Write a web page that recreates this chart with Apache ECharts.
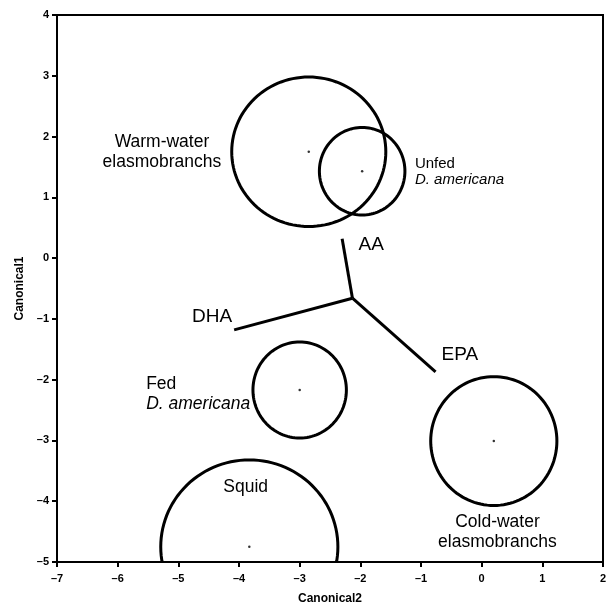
<!DOCTYPE html>
<html style="height: 100%">
<head>
    <meta charset="utf-8">
    <script src="https://cdn.jsdelivr.net/npm/echarts@6/dist/echarts.min.js"></script>
    <title>Canonical plot</title>
</head>
<body style="height: 100%; margin: 0; background: #fff">
<div id="container" style="width: 609px; height: 607px"></div>
<script type="text/javascript">
// group means (Canonical2, Canonical1) and confidence radii
let groups   = ['Warm-water', 'Unfed', 'Fed', 'Cold-water', 'Squid']
let centerX  = [-2.85, -1.97, -3.00, 0.20, -3.83]
let centerY  = [1.75, 1.43, -2.17, -3.01, -4.75]
let radiusX  = [1.27, 0.705, 0.77, 1.04, 1.46]
let radiusY  = [1.23, 0.72, 0.79, 1.06, 1.43]

// biplot rays
let rayOrigin = [-2.13, -0.66]
let rayNames  = ['AA', 'DHA', 'EPA']
let rayEndX   = [-2.30, -4.08, -0.76]
let rayEndY   = [0.32, -1.18, -1.87]

// text labels and their anchors
let labelText = [
    '{n|Warm-water}\n{n|elasmobranchs}',
    '{s|Unfed}\n{si|D. americana}',
    '{n|Fed}\n{i|D. americana}',
    '{n|Squid}',
    '{n|Cold-water}\n{n|elasmobranchs}',
    '{b|AA}', '{b|DHA}', '{b|EPA}'
]
let labelX     = [-5.27, -1.10, -5.53, -3.89, 0.26, -1.82, -4.445, -0.36]
let labelY     = [1.75, 1.42, -2.24, -3.775, -4.51, 0.22, -0.97, -1.59]
let labelAlign = ['center', 'left', 'left', 'center', 'center', 'center', 'center', 'center']

let font = 'Liberation Sans, Arial, sans-serif'
let rich = {
    n:  {fontSize: 17.5, lineHeight: 20, fontFamily: font, color: '#000'},
    i:  {fontSize: 17.5, lineHeight: 20, fontFamily: font, fontStyle: 'italic', color: '#000'},
    s:  {fontSize: 15, lineHeight: 16, fontFamily: font, color: '#000'},
    si: {fontSize: 15, lineHeight: 16, fontFamily: font, fontStyle: 'italic', color: '#000'},
    b:  {fontSize: 19, lineHeight: 22, fontFamily: font, color: '#000'}
}

let ellipseData = groups.map((g, i) => [centerX[i], centerY[i], radiusX[i], radiusY[i]])
let rayData = rayNames.map((r, i) => [rayEndX[i], rayEndY[i]])
let labelData = labelText.map((t, i) => [labelX[i], labelY[i], i])

let axisCommon = {
    type: 'value',
    interval: 1,
    splitLine: {show: false},
    axisLine: {onZero: false, lineStyle: {color: '#000', width: 2}},
    axisTick: {length: 5, lineStyle: {color: '#000', width: 2}},
    axisLabel: {color: '#000', fontWeight: 'bold', fontSize: 11, fontFamily: font,
                formatter: v => String(v).replace('-', '\u2013')},
    nameLocation: 'middle',
    nameTextStyle: {color: '#000', fontWeight: 'bold', fontSize: 12, fontFamily: font}
}

let chart = echarts.init(document.getElementById('container'))
chart.setOption({
    animation: false,
    grid: {left: 57, right: 6, top: 15, bottom: 45, show: true, borderColor: '#000', borderWidth: 2,
           containLabel: false, outerBoundsMode: 'none'},
    xAxis: Object.assign({}, axisCommon, {min: -7, max: 2, name: 'Canonical2', nameGap: 31,
        axisLabel: Object.assign({}, axisCommon.axisLabel, {margin: 11})}),
    yAxis: Object.assign({}, axisCommon, {min: -5, max: 4, name: 'Canonical1', nameGap: 27,
        axisLabel: Object.assign({}, axisCommon.axisLabel, {margin: 8})}),
    series: [
        {
            type: 'custom',
            clip: true,
            data: ellipseData,
            renderItem: function (params, api) {
                let cx = api.value(0), cy = api.value(1), rx = api.value(2), ry = api.value(3)
                let pts = []
                for (let k = 0; k <= 120; k++) {
                    let a = k / 120 * Math.PI * 2
                    pts.push(api.coord([cx + rx * Math.cos(a), cy + ry * Math.sin(a)]))
                }
                return {type: 'polyline', shape: {points: pts},
                        style: {fill: null, stroke: '#000', lineWidth: 3}}
            }
        },
        {
            type: 'scatter',
            data: ellipseData.map(d => [d[0], d[1]]),
            symbolSize: 2.5,
            itemStyle: {color: '#000'}
        },
        {
            type: 'custom',
            data: rayData,
            renderItem: function (params, api) {
                let p0 = api.coord(rayOrigin)
                let p1 = api.coord([api.value(0), api.value(1)])
                return {type: 'line', shape: {x1: p0[0], y1: p0[1], x2: p1[0], y2: p1[1]},
                        style: {stroke: '#000', lineWidth: 3, lineCap: 'butt'}}
            }
        },
        {
            type: 'custom',
            data: labelData,
            renderItem: function (params, api) {
                let i = api.value(2)
                let p = api.coord([api.value(0), api.value(1)])
                return {type: 'text', x: p[0], y: p[1],
                        style: {text: labelText[i], rich: rich, align: labelAlign[i],
                                 verticalAlign: 'middle', fill: '#000'}}
            }
        }
    ]
}, true)
</script>
</body>
</html>
